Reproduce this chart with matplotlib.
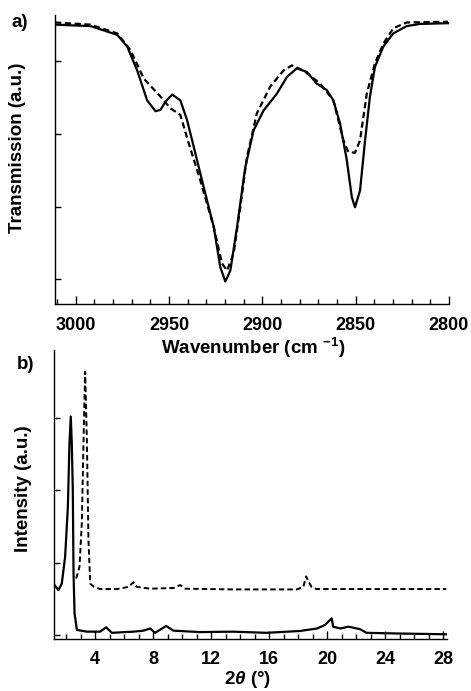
import numpy as np
import matplotlib
matplotlib.use("Agg")
import matplotlib.pyplot as plt
from matplotlib.ticker import MultipleLocator, FixedLocator

plt.rcParams['font.family'] = ['Liberation Sans', 'DejaVu Sans']
plt.rcParams['font.weight'] = 'bold'
plt.rcParams['mathtext.fontset'] = 'custom'
plt.rcParams['mathtext.rm'] = 'Liberation Sans:bold'
plt.rcParams['mathtext.bf'] = 'Liberation Sans:bold'
plt.rcParams['mathtext.it'] = 'Liberation Sans:italic:bold'

# ---- a) IR spectra (wavenumber, transmission a.u.)
ir_solid_x = [3011, 2992, 2977.7, 2972.4, 2967, 2961.7, 2957.2, 2954.5, 2951.9, 2948.3,
              2943.9, 2940.3, 2936.7, 2931.4, 2926, 2922.5, 2919.8, 2917.1, 2913.5, 2909.1,
              2904.6, 2899.3, 2892.2, 2886.8, 2881.5, 2876.1, 2870.8, 2865.4, 2861.9, 2858.3,
              2854.7, 2852, 2850.3, 2847.6, 2844.9, 2842.3, 2839.6, 2835.1, 2829.8, 2822.6,
              2815.5, 2800.4]
ir_solid_y = [3.50, 3.48, 3.36, 3.20, 2.87, 2.46, 2.31, 2.33, 2.44, 2.54,
              2.46, 2.19, 1.82, 1.27, 0.72, 0.17, -0.03, 0.12, 0.72, 1.54,
              2.05, 2.32, 2.55, 2.78, 2.90, 2.85, 2.69, 2.60, 2.46, 2.14,
              1.64, 1.13, 0.99, 1.22, 1.91, 2.51, 2.92, 3.20, 3.38, 3.48,
              3.51, 3.52]
ir_dash_x = [3011, 2992, 2977.7, 2970.6, 2963.5, 2954.5, 2949.2, 2943.9, 2939.4, 2933.2,
             2926, 2921.6, 2918.9, 2915.3, 2911.8, 2908.2, 2902.9, 2895.7, 2888.6, 2884.1,
             2877.9, 2869, 2861.9, 2856.5, 2853.9, 2850.3, 2847.6, 2844, 2839.6, 2835.1,
             2829.8, 2822.6, 2800.4]
ir_dash_y = [3.53, 3.50, 3.38, 3.15, 2.76, 2.51, 2.35, 2.26, 1.87, 1.36,
             0.72, 0.22, 0.12, 0.36, 0.99, 1.68, 2.28, 2.65, 2.87, 2.94,
             2.87, 2.69, 2.46, 1.91, 1.75, 1.74, 1.91, 2.55, 2.97, 3.24,
             3.45, 3.53, 3.54]

# ---- b) XRD patterns (2 theta, intensity a.u.)
xrd_solid_x = [1.13, 1.47, 1.70, 1.93, 2.12, 2.23, 2.32, 2.39, 2.46, 2.51, 2.58, 2.74,
               3.43, 4.34, 4.76, 5.15, 6.64, 7.33, 7.79, 8.13, 8.89, 9.4, 11.2, 13.5,
               15.8, 18.1, 19.3, 19.85, 20.2, 20.3, 20.4, 20.9, 21.45, 22.26, 22.7, 25,
               28.2]
xrd_solid_y = [0.71, 0.62, 0.71, 1.08, 1.77, 2.65, 3.02, 2.65, 2.0, 0.85, 0.30, 0.07,
               0.046, 0.046, 0.106, 0.03, 0.046, 0.06, 0.09, 0.03, 0.124, 0.06, 0.04, 0.046,
               0.03, 0.055, 0.09, 0.14, 0.21, 0.23, 0.115, 0.09, 0.115, 0.08, 0.03, 0.02,
               0.01]
xrd_dash_x = [2.69, 2.92, 3.08, 3.2, 3.31, 3.43, 3.54, 3.66, 3.89, 4.34, 5.5, 6.3,
              6.64, 6.87, 7.79, 9.4, 9.86, 10.2, 13.5, 17.9, 18.35, 18.54, 18.7, 18.93,
              19.27, 22.7, 28.2]
xrd_dash_y = [0.78, 0.94, 1.54, 2.69, 3.64, 2.69, 1.31, 0.71, 0.67, 0.635, 0.635, 0.665,
              0.73, 0.665, 0.64, 0.65, 0.69, 0.64, 0.63, 0.63, 0.665, 0.81, 0.74, 0.66,
              0.635, 0.635, 0.635]

ir_xticks = [3000, 2950, 2900, 2850, 2800]
xrd_xticks = [4, 8, 12, 16, 20, 24, 28]

fig = plt.figure(figsize=(4.71, 6.91), dpi=100)
ax1 = fig.add_axes([0.117, 0.560, 0.836, 0.418])
ax2 = fig.add_axes([0.1136, 0.0753, 0.8355, 0.4182])
ax2.patch.set_visible(False)

dash = (0, (2.8, 1.6))

ax1.plot(ir_solid_x, ir_solid_y, color='black', lw=1.6)
ax1.plot(ir_dash_x, ir_dash_y, color='black', lw=1.6, linestyle=dash)
ax1.set_xlim(3011, 2800)
ax1.set_ylim(-0.34, 3.63)
ax1.xaxis.set_major_locator(FixedLocator(ir_xticks))
ax1.xaxis.set_minor_locator(MultipleLocator(10))
ax1.set_yticks([0, 1, 2, 3])
ax1.set_yticklabels([])
ax1.set_ylabel('Transmission (a.u.)', fontsize=13.5, fontweight='bold')
ax1.yaxis.set_label_coords(-0.075, 0.54)
ax1.set_xlabel(r'Wavenumber (cm $^{-1}$)', fontsize=13.5, fontweight='bold')
ax1.xaxis.set_label_coords(0.503, -0.112)

ax2.plot(xrd_solid_x, xrd_solid_y, color='black', lw=1.6)
ax2.plot(xrd_dash_x, xrd_dash_y, color='black', lw=1.4, linestyle=dash)
ax2.set_xlim(1.13, 28.25)
ax2.set_ylim(-0.055, 3.94)
ax2.xaxis.set_major_locator(FixedLocator(xrd_xticks))
ax2.xaxis.set_minor_locator(MultipleLocator(1))
ax2.set_yticks([0, 1, 2, 3])
ax2.set_yticklabels([])
ax2.set_ylabel('Intensity (a.u.)', fontsize=13.5, fontweight='bold')
ax2.yaxis.set_label_coords(-0.055, 0.52)
ax2.set_xlabel(r'2$\mathit{\theta}$ (°)', fontsize=13.5, fontweight='bold')
ax2.xaxis.set_label_coords(0.494, -0.105)

for ax in (ax1, ax2):
    ax.spines['top'].set_visible(False)
    ax.spines['right'].set_visible(False)
    ax.spines['left'].set_linewidth(1.0)
    ax.spines['bottom'].set_linewidth(1.0)
    ax.tick_params(axis='x', which='major', direction='in', length=6, width=1,
                   labelsize=13, pad=9)
    ax.tick_params(axis='x', which='minor', direction='in', length=3.5, width=1)
    ax.tick_params(axis='y', which='major', direction='in', length=4, width=1)
    for lab in ax.get_xticklabels():
        lab.set_fontweight('bold')

fig.text(0.025, 0.968, 'a)', fontsize=13.5, fontweight='bold', va='center')
fig.text(0.035, 0.472, 'b)', fontsize=13.5, fontweight='bold', va='center')

fig.savefig('out.png', dpi=100)
